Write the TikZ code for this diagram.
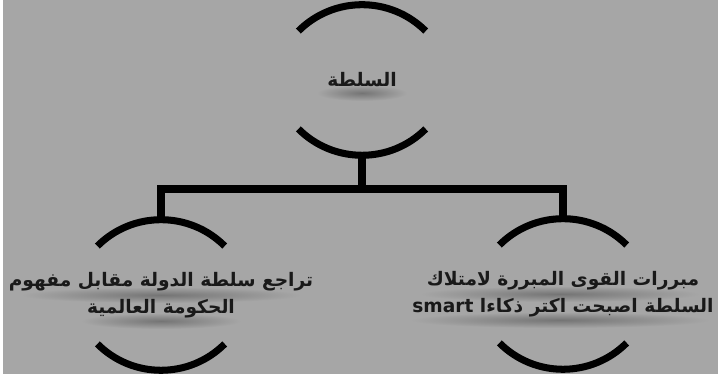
\documentclass[tikz,border=0pt]{standalone}
\usepackage{fontspec}
\newfontfamily\arabicfont[Script=Arabic]{DejaVu Sans}
\TeXXeTstate=1
\definecolor{bggray}{RGB}{166,166,166}
\definecolor{inkgray}{RGB}{25,25,25}
\tikzset{
  arcline/.style={line width=4pt, black},
  conn/.style={line width=4pt, black},
  txt/.style={font=\arabicfont\bfseries\fontsize{10.6}{15.5}\selectfont, text=inkgray,
    align=center, inner sep=0pt, minimum height=3cm},
  shadowblob/.style={inner color=black!30!bggray, outer color=bggray}
}
\begin{document}
\begin{tikzpicture}[x=0.02cm, y=0.02cm]
\useasboundingbox (0,0) rectangle (718,377);
% background, thin white strip left and bottom
\fill[white] (0,0) rectangle (718,377);
\fill[bggray] (3,3) rectangle (718,377);

% soft shadows under the texts
\shade[shadowblob] (362,284) ellipse (45 and 8);
\shade[shadowblob] (161,82) ellipse (140 and 8);
\shade[shadowblob] (161,56) ellipse (80 and 8);
\shade[shadowblob] (560,83) ellipse (140 and 8);
\shade[shadowblob] (560,57) ellipse (150 and 8);

% the three circles with their texts
\node[txt] (power) at (362,297) {\beginR السلطة\endR};
\node[txt] (decline) at (161,82) {\beginR تراجع سلطة الدولة مقابل مفهوم\endR\\
  \beginR الحكومة العالمية\endR};
\node[txt] (reasons) at (563,83) {\beginR مبررات القوى المبررة لامتلاك\endR\\
  \beginR السلطة اصبحت اكتر ذكاءا \beginL smart\endL\endR};

% upper and lower arc of each circle
\foreach \n in {power,decline,reasons} {
  \draw[arcline] (\n.north) ++(-63.6,-26.4) arc[start angle=135, end angle=45, radius=90];
  \draw[arcline] (\n.south) ++(-63.6,26.4) arc[start angle=225, end angle=315, radius=90];
}

% connectors
\coordinate (bus) at (362,188);
\draw[conn] (power.south) -- (bus);
\draw[conn] (decline.north) |- (bus) -| (reasons.north);

\end{tikzpicture}
\end{document}
